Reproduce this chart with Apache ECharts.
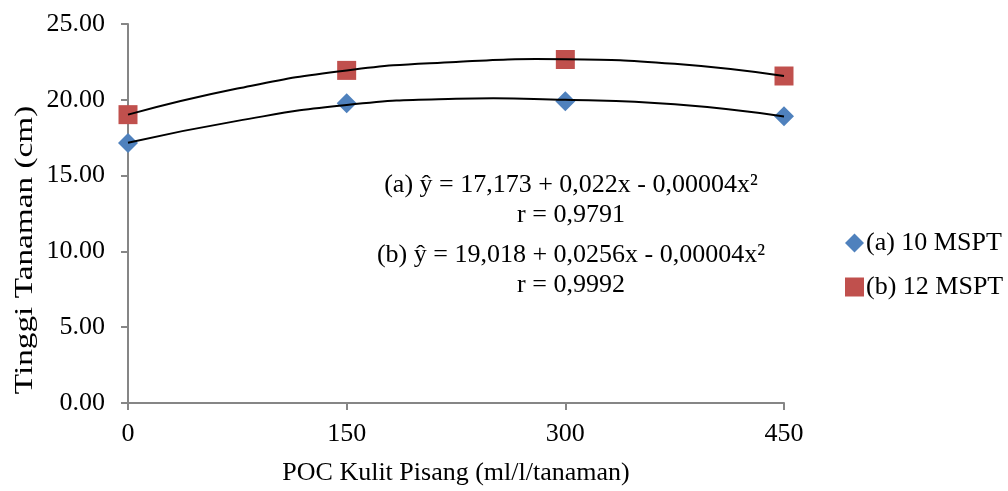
<!DOCTYPE html>
<html>
<head>
<meta charset="utf-8">
<script src="https://cdn.jsdelivr.net/npm/echarts@6/dist/echarts.min.js"></script>
<style>
html,body{margin:0;padding:0;background:#fff;}
#chart{width:1008px;height:491px;}
</style>
</head>
<body>
<div id="chart"></div>
<script>
// Data
var doses = [0, 150, 300, 450];
var seriesA = [17.15, 19.78, 19.91, 18.91];   // (a) 10 MSPT
var seriesB = [19.02, 21.94, 22.66, 21.57];   // (b) 12 MSPT
// Trend curves at these x positions
var trendX = [0, 75, 150, 225, 300, 375, 450];
var trendA = [17.17, 18.61, 19.66, 20.07, 20.0, 19.70, 18.9];
var trendB = [19.02, 20.74, 21.94, 22.50, 22.68, 22.37, 21.57];
var xTicks = [0, 150, 300, 450];
var yTicks = [0, 5, 10, 15, 20, 25];
var nameA = '(a) 10 MSPT';
var nameB = '(b) 12 MSPT';
var yTitle = 'Tinggi Tanaman (cm)';
var xTitle = 'POC Kulit Pisang (ml/l/tanaman)';
var eqLines = ['(a) ŷ = 17,173 + 0,022x - 0,00004x²', 'r = 0,9791', '(b) ŷ = 19,018 + 0,0256x - 0,00004x²', 'r = 0,9992'];

function pairs(xs, ys){ return xs.map(function(x,i){ return [x, ys[i]]; }); }

var FONT = "'Liberation Serif', 'Times New Roman', serif";
var FS = 26;
var chart = echarts.init(document.getElementById('chart'), null, {renderer:'canvas'});
var axisColor = '#868686';
var eqY = [185, 215, 255, 285];
var graphics = eqLines.map(function(t, i){
  return {type: 'text', x: 571, y: eqY[i], z: 10,
    style: {text: t, align: 'center', verticalAlign: 'middle', font: FS + 'px ' + FONT, fill: '#000'}};
});
graphics.push({type: 'text', x: 25, y: 250, rotation: Math.PI/2, scaleX: 1.28, scaleY: 1, z: 10,
  style: {text: yTitle, align: 'center', verticalAlign: 'middle', font: FS + 'px ' + FONT, fill: '#000'}});

function trendRenderer(xs, ys){
  return function(params, api){
    if (params.dataIndex !== 0) return null;
    var pts = xs.map(function(x, i){ return api.coord([x, ys[i]]); });
    return {type: 'polyline', shape: {points: pts, smooth: 0.5},
      style: {stroke: '#000', lineWidth: 2, fill: null}, silent: true};
  };
}

chart.setOption({
  animation: false,
  backgroundColor: '#ffffff',
  textStyle: {fontFamily: FONT},
  grid: {left: 128, right: 224, top: 24, bottom: 84},
  xAxis: {
    type: 'value', min: xTicks[0], max: xTicks[xTicks.length-1], interval: 150,
    name: xTitle, nameLocation: 'middle', nameGap: 57,
    nameTextStyle: {fontFamily: FONT, fontSize: FS, color: '#000'},
    axisLine: {show: true, lineStyle: {color: axisColor, width: 2}},
    axisTick: {show: true, inside: false, length: 7, lineStyle: {color: axisColor, width: 2}},
    axisLabel: {fontFamily: FONT, fontSize: FS, color: '#000', margin: 18},
    splitLine: {show: false}
  },
  yAxis: {
    type: 'value', min: yTicks[0], max: yTicks[yTicks.length-1], interval: 5,
    axisLine: {show: true, lineStyle: {color: axisColor, width: 2}},
    axisTick: {show: true, inside: false, length: 7, lineStyle: {color: axisColor, width: 2}},
    axisLabel: {fontFamily: FONT, fontSize: FS, color: '#000', margin: 23,
      formatter: function(v){ return v.toFixed(2); }},
    splitLine: {show: false}
  },
  legend: {
    orient: 'vertical', left: 840, top: 225, itemWidth: 19, itemHeight: 19, itemGap: 18,
    itemStyle: {opacity: 1},
    data: [{name: nameA, icon: 'diamond'}, {name: nameB, icon: 'rect'}],
    textStyle: {fontFamily: FONT, fontSize: FS, color: '#000', padding: [0,0,0,-3]}
  },
  graphic: graphics,
  series: [
    {name: nameA, type: 'scatter', symbol: 'diamond', symbolSize: [20, 20], z: 2,
      itemStyle: {color: '#4F81BD', opacity: 1}, data: pairs(doses, seriesA)},
    {name: nameB, type: 'scatter', symbol: 'rect', symbolSize: 19, z: 2,
      itemStyle: {color: '#C0504D', opacity: 1}, data: pairs(doses, seriesB)},
    {name: 'trendA', type: 'custom', z: 5, silent: true, clip: false,
      encode: {x: 0, y: 1}, renderItem: trendRenderer(trendX, trendA), data: pairs(trendX, trendA)},
    {name: 'trendB', type: 'custom', z: 5, silent: true, clip: false,
      encode: {x: 0, y: 1}, renderItem: trendRenderer(trendX, trendB), data: pairs(trendX, trendB)}
  ]
});
</script>
</body>
</html>
